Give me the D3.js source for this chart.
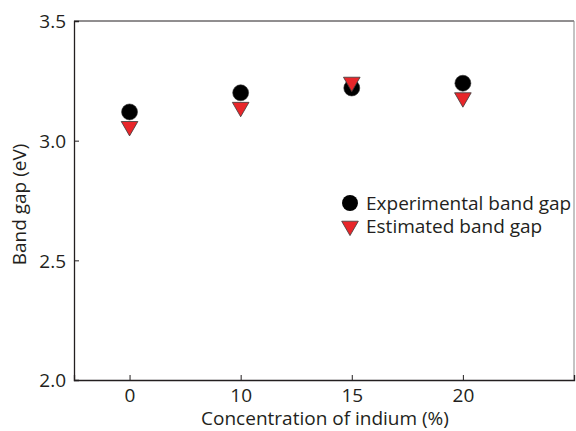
<!DOCTYPE html>
<html>
<head>
<meta charset="utf-8">
<script src="https://cdn.jsdelivr.net/npm/d3@7"></script>
<style>
  body { margin: 0; background: #fff; overflow: hidden; }
  svg { display: block; }
  text { font-family: "Open Sans", "Noto Sans", sans-serif; fill: #231f20; }
</style>
</head>
<body>
<div id="chart"></div>
<script>
// DATA
const concentrations = ["0", "10", "15", "20"];
const experimental = [3.12, 3.2, 3.22, 3.24];
const estimated = [3.06, 3.14, 3.245, 3.18];
const yTicks = [2.0, 2.5, 3.0, 3.5];
const seriesNames = ["Experimental band gap", "Estimated band gap"];

const width = 576,
  height = 431;
const margin = { top: 21, right: 2, bottom: 51, left: 74 };
const innerWidth = width - margin.left - margin.right,
  innerHeight = height - margin.top - margin.bottom;

const svg = d3
  .select("#chart")
  .append("svg")
  .attr("width", width)
  .attr("height", height);

const g = svg
  .append("g")
  .attr("transform", `translate(${margin.left},${margin.top})`);

// SCALES
const xScale = d3
  .scaleLinear()
  .domain([0.5, 5])
  .range([0, innerWidth]);
const xPos = (i) => xScale(i + 1);

const yScale = d3.scaleLinear().domain([2.0, 3.5]).range([innerHeight, 0]);

// frame (top / right)
g.append("line")
  .attr("x1", 0)
  .attr("x2", innerWidth)
  .attr("y1", 0)
  .attr("y2", 0)
  .attr("stroke", "#231f20")
  .attr("stroke-width", 1);
g.append("line")
  .attr("x1", innerWidth)
  .attr("x2", innerWidth)
  .attr("y1", 0)
  .attr("y2", innerHeight)
  .attr("stroke", "#888")
  .attr("stroke-width", 1);

// AXES
const yAxis = g
  .append("g")
  .call(
    d3
      .axisLeft(yScale)
      .tickValues(yTicks)
      .tickFormat(d3.format(".1f"))
      .tickSize(-5)
      .tickPadding(8)
  );
yAxis.select(".domain").attr("stroke", "#231f20").attr("stroke-width", 1.3);
yAxis.selectAll(".tick line").attr("stroke", "#231f20");
yAxis
  .selectAll("text")
  .style("font-size", "19px")
  .attr("fill", "#231f20")
  .attr("dy", "0.36em");

const xAxis = g
  .append("g")
  .attr("transform", `translate(0,${innerHeight})`)
  .call(
    d3
      .axisBottom(xScale)
      .tickValues([1, 2, 3, 4])
      .tickFormat((d) => concentrations[d - 1])
      .tickSize(-5)
      .tickPadding(9)
  );
xAxis.select(".domain").attr("stroke", "#231f20").attr("stroke-width", 1.3);
xAxis.selectAll(".tick line").attr("stroke", "#231f20");
xAxis
  .selectAll("text")
  .style("font-size", "19px")
  .attr("fill", "#231f20");

// axis titles
svg
  .append("text")
  .attr("x", 325)
  .attr("y", 425)
  .attr("text-anchor", "middle")
  .style("font-size", "19px")
  .text("Concentration of indium (%)");

svg
  .append("text")
  .attr("transform", `translate(26,${margin.top + innerHeight / 2 + 4}) rotate(-90)`)
  .attr("text-anchor", "middle")
  .style("font-size", "19px")
  .text("Band gap (eV)");

// MARKS
const circleSymbol = d3.symbol().type(d3.symbolCircle).size(200);
const triSymbol = d3.symbol().type(d3.symbolTriangle).size(120);

g.selectAll(".exp")
  .data(experimental)
  .join("path")
  .attr("class", "exp")
  .attr("d", circleSymbol)
  .attr("transform", (d, i) => `translate(${xPos(i)},${yScale(d)})`)
  .attr("fill", "#000")
  .attr("stroke", "#333")
  .attr("stroke-width", 0.6);

g.selectAll(".est")
  .data(estimated)
  .join("path")
  .attr("class", "est")
  .attr("d", triSymbol)
  .attr("transform", (d, i) => `translate(${xPos(i)},${yScale(d)}) rotate(180)`)
  .attr("fill", "#e8262a")
  .attr("stroke", "#3a3a3a")
  .attr("stroke-width", 0.8);

// LEGEND
const legend = svg.append("g").attr("transform", "translate(350,203)");
legend
  .append("path")
  .attr("d", circleSymbol)
  .attr("fill", "#000");
legend
  .append("path")
  .attr("d", triSymbol)
  .attr("transform", "translate(0,23) rotate(180)")
  .attr("fill", "#e8262a")
  .attr("stroke", "#3a3a3a")
  .attr("stroke-width", 0.8);
legend
  .selectAll(".lt")
  .data(seriesNames)
  .join("text")
  .attr("class", "lt")
  .attr("x", 16)
  .attr("y", (d, i) => i * 23)
  .attr("dy", "0.36em")
  .style("font-size", "19px")
  .text((d) => d);
</script>
</body>
</html>
